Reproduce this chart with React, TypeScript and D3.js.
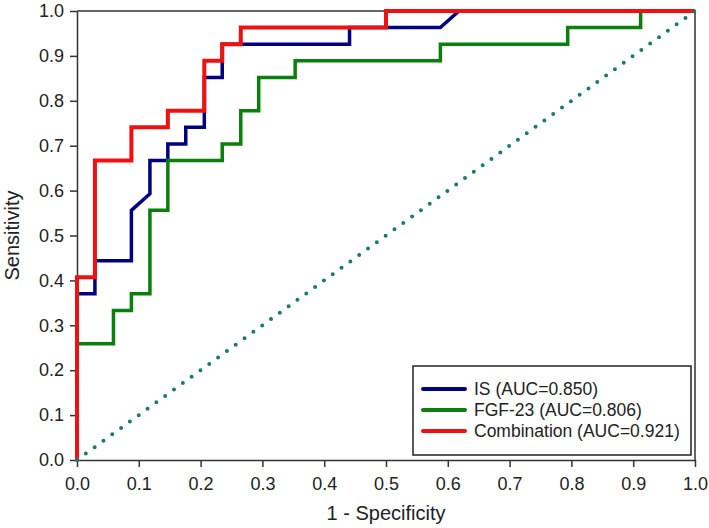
import React, { useRef, useEffect } from "react";
import * as d3 from "d3";

// ROC points [1 - specificity, sensitivity]
const isPoints: [number, number][] = [
  [0, 0], [0, 0.37], [0.029, 0.37], [0.029, 0.444], [0.088, 0.444], [0.088, 0.556],
  [0.118, 0.593], [0.118, 0.667], [0.147, 0.667], [0.147, 0.704], [0.176, 0.704],
  [0.176, 0.741], [0.206, 0.741], [0.206, 0.852], [0.235, 0.852], [0.235, 0.926],
  [0.441, 0.926], [0.441, 0.963], [0.588, 0.963], [0.618, 1.0], [1.0, 1.0],
];
const fgfPoints: [number, number][] = [
  [0, 0], [0, 0.259], [0.059, 0.259], [0.059, 0.333], [0.088, 0.333], [0.088, 0.37],
  [0.118, 0.37], [0.118, 0.556], [0.147, 0.556], [0.147, 0.667], [0.235, 0.667],
  [0.235, 0.704], [0.265, 0.704], [0.265, 0.778], [0.294, 0.778], [0.294, 0.852],
  [0.353, 0.852], [0.353, 0.889], [0.588, 0.889], [0.588, 0.926], [0.794, 0.926],
  [0.794, 0.963], [0.912, 0.963], [0.912, 1.0], [1.0, 1.0],
];
const comboPoints: [number, number][] = [
  [0, 0], [0, 0.407], [0.029, 0.407], [0.029, 0.667], [0.088, 0.667], [0.088, 0.741],
  [0.147, 0.741], [0.147, 0.778], [0.206, 0.778], [0.206, 0.889], [0.235, 0.889],
  [0.235, 0.926], [0.265, 0.926], [0.265, 0.963], [0.5, 0.963], [0.5, 1.0], [1.0, 1.0],
];
const refLine: [number, number][] = [[0, 0], [1, 1]];

const seriesNames = ["IS (AUC=0.850)", "FGF-23 (AUC=0.806)", "Combination (AUC=0.921)"];
const seriesColors = ["#000080", "#0b7f0b", "#f01010"];
const seriesWidths = [3.5, 3.5, 4];
const ticks = [0, 0.1, 0.2, 0.3, 0.4, 0.5, 0.6, 0.7, 0.8, 0.9, 1.0];

const App = () => {
  const svgRef = useRef<SVGSVGElement>(null);

  useEffect(() => {
    const width = 709, height = 528;
    const margin = { top: 11, right: 14, bottom: 68, left: 77 };
    const font = "'Liberation Sans', Arial, sans-serif";
    const axisColor = "#333";

    const svg = d3.select(svgRef.current)
      .attr("width", width)
      .attr("height", height)
      .style("background", "#fff");
    svg.selectAll("*").remove();

    const x = d3.scaleLinear().domain([0, 1]).range([margin.left, width - margin.right]);
    const y = d3.scaleLinear().domain([0, 1]).range([height - margin.bottom, margin.top]);

    // frame: top and right
    svg.append("path")
      .attr("d", `M${x(0)},${y(1)}H${x(1)}V${y(0)}`)
      .attr("fill", "none")
      .attr("stroke", axisColor)
      .attr("stroke-width", 1.5);

    // Y axis
    const yAxis = svg.append("g")
      .attr("transform", `translate(${x(0)},0)`)
      .call(d3.axisLeft(y).tickValues(ticks).tickFormat(d3.format(".1f")).tickSize(7).tickSizeOuter(0).tickPadding(6));
    yAxis.selectAll("text").style("font-size", "18px").style("font-family", font).attr("fill", "#222");

    // X axis
    const xAxis = svg.append("g")
      .attr("transform", `translate(0,${y(0)})`)
      .call(d3.axisBottom(x).tickValues(ticks).tickFormat(d3.format(".1f")).tickSize(7).tickSizeOuter(0).tickPadding(10));
    xAxis.selectAll("text").style("font-size", "18px").style("font-family", font).attr("fill", "#222");

    [yAxis, xAxis].forEach(g => {
      g.select(".domain").attr("stroke", axisColor).attr("stroke-width", 1.5);
      g.selectAll(".tick line").attr("stroke", axisColor).attr("stroke-width", 1.5);
    });

    // axis titles
    svg.append("text")
      .attr("x", (x(0) + x(1)) / 2)
      .attr("y", 520)
      .attr("text-anchor", "middle")
      .style("font-family", font)
      .style("font-size", "20px")
      .attr("fill", "#222")
      .text("1 - Specificity");

    svg.append("text")
      .attr("transform", `translate(19,${(y(0) + y(1)) / 2}) rotate(-90)`)
      .attr("text-anchor", "middle")
      .style("font-family", font)
      .style("font-size", "20px")
      .attr("fill", "#222")
      .text("Sensitivity");

    const line = d3.line<[number, number]>()
      .x(d => x(d[0]))
      .y(d => y(d[1]));

    // ROC curves
    [isPoints, fgfPoints, comboPoints].forEach((pts, i) => {
      svg.append("path")
        .datum(pts)
        .attr("fill", "none")
        .attr("stroke", seriesColors[i])
        .attr("stroke-width", seriesWidths[i])
        .attr("stroke-linejoin", "miter")
        .attr("d", line);
    });

    // reference diagonal (dotted)
    svg.append("path")
      .datum(refLine)
      .attr("fill", "none")
      .attr("stroke", "#1a7a70")
      .attr("stroke-width", 4)
      .attr("stroke-linecap", "round")
      .attr("stroke-dasharray", "0 10.9")
      .attr("d", line);

    // Legend
    const lg = svg.append("g").attr("transform", "translate(413,366)");
    lg.append("rect")
      .attr("width", 278)
      .attr("height", 89)
      .attr("fill", "#fff")
      .attr("stroke", "#222")
      .attr("stroke-width", 1.5);
    seriesNames.forEach((name, i) => {
      const cy = 23 + i * 21;
      lg.append("line")
        .attr("x1", 10).attr("x2", 52)
        .attr("y1", cy).attr("y2", cy)
        .attr("stroke", seriesColors[i])
        .attr("stroke-width", 4)
        .attr("stroke-linecap", "round");
      lg.append("text")
        .attr("x", 61)
        .attr("y", cy)
        .attr("dy", "0.36em")
        .style("font-family", font)
        .style("font-size", "17.5px")
        .attr("fill", "#222")
        .text(name);
    });
  }, []);

  return (
    <div style={{ position: "absolute", left: 0, top: 0 }}>
      <svg ref={svgRef}></svg>
    </div>
  );
};

export default App;
